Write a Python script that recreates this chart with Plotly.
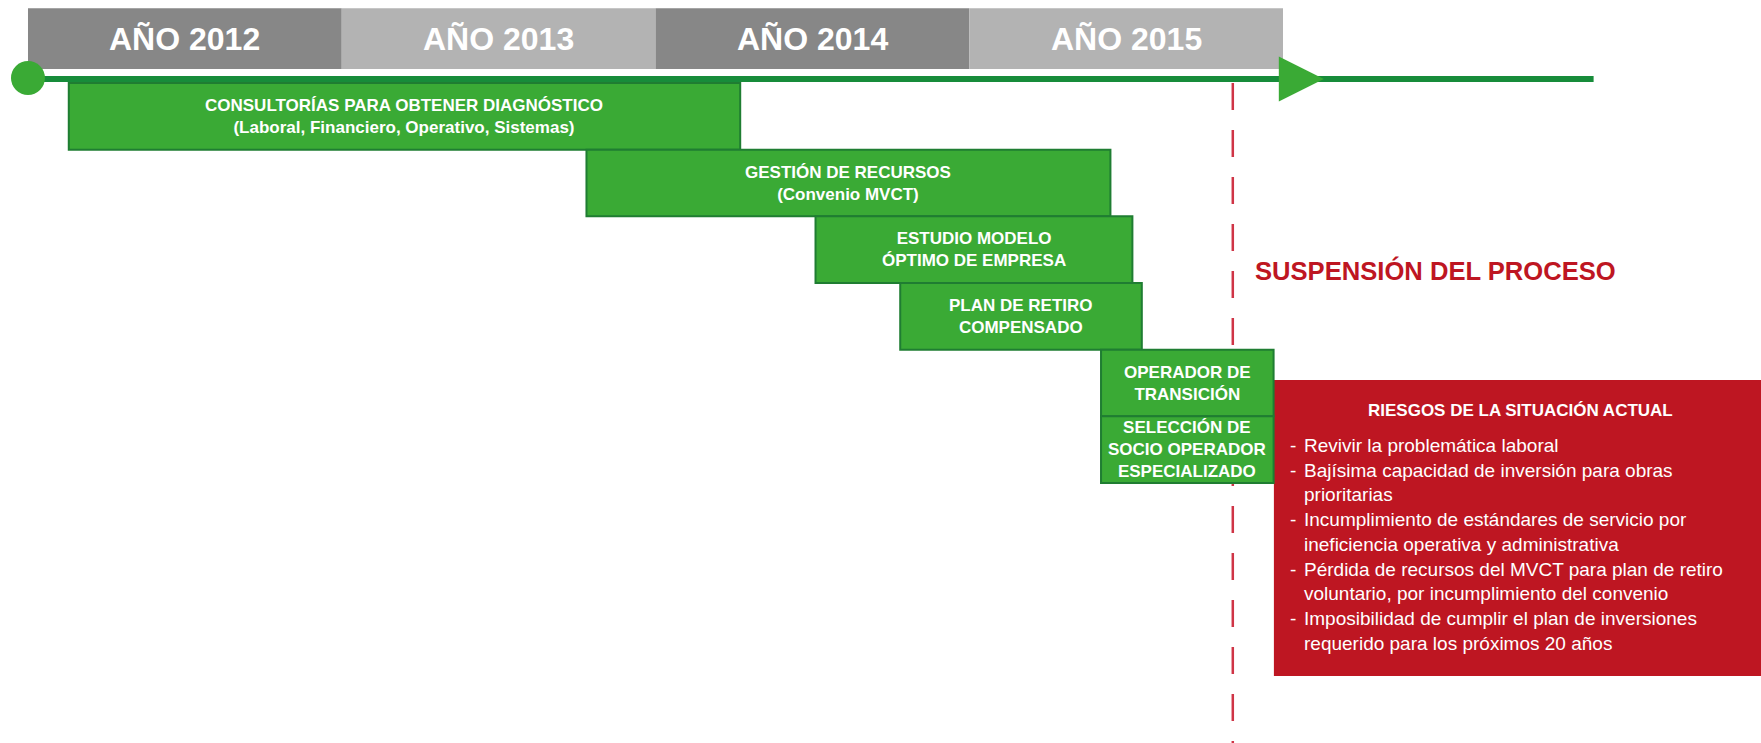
import plotly.graph_objects as go

# ---------------- data ----------------
year_starts = [2012, 2013, 2014, 2015]
year_labels = ["AÑO 2012", "AÑO 2013", "AÑO 2014", "AÑO 2015"]

task_labels = [
    "CONSULTORÍAS PARA OBTENER DIAGNÓSTICO<br>(Laboral, Financiero, Operativo, Sistemas)",
    "GESTIÓN DE RECURSOS<br>(Convenio MVCT)",
    "ESTUDIO MODELO<br>ÓPTIMO DE EMPRESA",
    "PLAN DE RETIRO<br>COMPENSADO",
    "OPERADOR DE<br>TRANSICIÓN",
    "SELECCIÓN DE<br>SOCIO OPERADOR<br>ESPECIALIZADO",
]
task_start = [2012.13, 2013.78, 2014.51, 2014.78, 2015.42, 2015.42]
task_end = [2014.27, 2015.45, 2015.52, 2015.55, 2015.97, 2015.97]
task_row = [0, 1, 2, 3, 4, 5]

timeline_start = 2012.0
timeline_end = 2016.99
arrow_tip = 2016.13
suspension_date = 2015.84
suspension_label = "SUSPENSIÓN DEL PROCESO"

risk_title = "RIESGOS DE LA SITUACIÓN ACTUAL"
risk_items = [
    ["Revivir la problemática laboral"],
    ["Bajísima capacidad de inversión para obras", "prioritarias"],
    ["Incumplimiento de estándares de servicio por", "ineficiencia operativa y administrativa"],
    ["Pérdida de recursos del MVCT para plan de retiro", "voluntario, por incumplimiento del convenio"],
    ["Imposibilidad de cumplir el plan de inversiones", "requerido para los próximos 20 años"],
]

# ---------------- style / layout ----------------
X_RANGE = [2011.9108, 2017.5235]
Y_RANGE = [9.9, -1.245]  # rows, reversed (row 0 = first task)
HEADER_Y = -0.665
HEADER_H = 0.91
LINE_Y = -0.06
GREEN = "#3aaa35"
GREEN_DARK = "#1f7d32"
LINE_GREEN = "#178c3a"
RED = "#be1622"
GREYS = ["#878787", "#b3b3b3"]
FONT = "Liberation Sans, Arial, sans-serif"

fig = go.Figure()

# timeline line
fig.add_trace(go.Scatter(
    x=[timeline_start, timeline_end], y=[LINE_Y, LINE_Y],
    mode="lines", line=dict(color=LINE_GREEN, width=6),
    hoverinfo="skip", showlegend=False))

# year header bands
fig.add_trace(go.Bar(
    orientation="h", base=year_starts, x=[1] * len(year_starts),
    y=[HEADER_Y] * len(year_starts), width=HEADER_H,
    marker=dict(color=[GREYS[i % 2] for i in range(len(year_starts))], line=dict(width=0)),
    hoverinfo="skip", showlegend=False))

# task bars
fig.add_trace(go.Bar(
    orientation="h", base=task_start,
    x=[e - s for s, e in zip(task_start, task_end)],
    y=[r + 0.5 for r in task_row], width=1,
    marker=dict(color=GREEN, line=dict(color=GREEN_DARK, width=2)),
    hoverinfo="skip", showlegend=False))

# start circle and arrow
fig.add_trace(go.Scatter(
    x=[timeline_start], y=[LINE_Y - 0.015], mode="markers",
    marker=dict(color=GREEN, size=34, line=dict(width=0)),
    hoverinfo="skip", showlegend=False))
fig.add_trace(go.Scatter(
    x=[arrow_tip], y=[LINE_Y], mode="markers",
    marker=dict(color=GREEN, size=45, symbol="arrow-right", line=dict(width=0)),
    hoverinfo="skip", showlegend=False))

annotations = []
for ys, lab in zip(year_starts, year_labels):
    annotations.append(dict(
        x=ys + 0.5, y=HEADER_Y, text="<b>%s</b>" % lab, showarrow=False,
        xanchor="center", yanchor="middle",
        font=dict(family=FONT, size=32, color="white")))

for s, e, r, lab in zip(task_start, task_end, task_row, task_labels):
    annotations.append(dict(
        x=(s + e) / 2, y=r + 0.5, text="<b>%s</b>" % lab.replace("<br>", "</b><br><b>"),
        showarrow=False, xanchor="center", yanchor="middle",
        font=dict(family=FONT, size=17, color="white")))

annotations.append(dict(
    x=2015.904, y=2.805, text="<b>%s</b>" % suspension_label, showarrow=False,
    xanchor="left", yanchor="middle",
    font=dict(family=FONT, size=25.6, color=RED)))

# risk panel
annotations.append(dict(
    x=2016.7585, y=4.915, text="<b>%s</b>" % risk_title, showarrow=False,
    xanchor="center", yanchor="middle",
    font=dict(family=FONT, size=17, color="white")))

dash_lines, text_lines = [], []
for item in risk_items:
    for i, ln in enumerate(item):
        dash_lines.append("-" if i == 0 else "\u00a0")
        text_lines.append(ln)
annotations.append(dict(
    x=2016.016, y=6.915, text="<br>".join(dash_lines), showarrow=False,
    xanchor="left", yanchor="middle", align="left",
    font=dict(family=FONT, size=19, color="white")))
annotations.append(dict(
    x=2016.0606, y=6.915, text="<br>".join(text_lines), showarrow=False,
    xanchor="left", yanchor="middle", align="left",
    font=dict(family=FONT, size=19, color="white")))

shapes = [
    # dashed suspension line, drawn below the bars
    dict(type="line", xref="x", yref="y", x0=suspension_date, x1=suspension_date,
         y0=0, y1=Y_RANGE[0], layer="below",
         line=dict(color="#cf3446", width=2.5, dash="27px,20px")),
    # risk panel
    dict(type="rect", xref="x", yref="y", x0=2015.971, x1=X_RANGE[1],
         y0=4.455, y1=8.895, fillcolor=RED, line=dict(width=0), layer="below"),
]

fig.update_layout(
    width=1761, height=743,
    margin=dict(l=0, r=0, t=0, b=0),
    paper_bgcolor="white", plot_bgcolor="rgba(0,0,0,0)",
    barmode="overlay", showlegend=False,
    xaxis=dict(range=X_RANGE, visible=False, fixedrange=True),
    yaxis=dict(range=Y_RANGE, type="linear", visible=False, fixedrange=True),
    shapes=shapes,
    annotations=annotations,
)

fig.write_html("out.html", config={"displayModeBar": False},
               post_script="document.body.style.margin='0';document.body.style.overflow='hidden';")
